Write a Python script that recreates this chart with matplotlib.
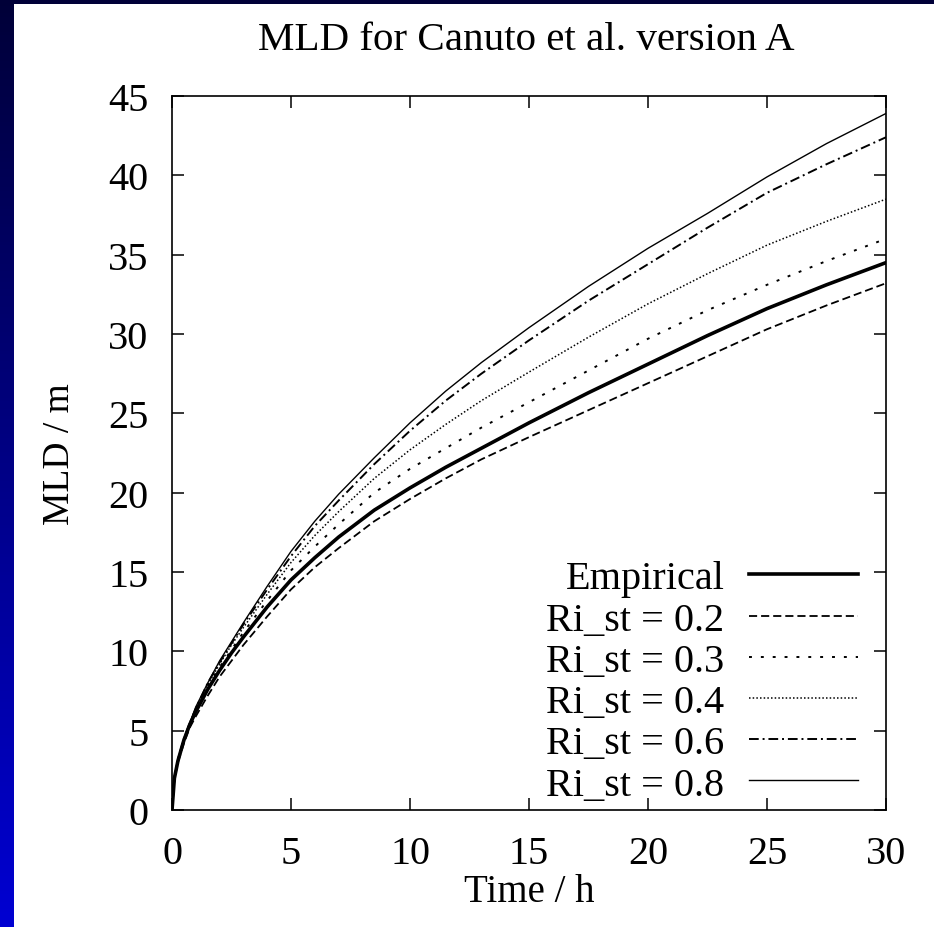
"""Mixed layer depth for Canuto et al. version A, recreated with matplotlib."""

import matplotlib.pyplot as plt
import numpy as np
from matplotlib.colors import LinearSegmentedColormap
from matplotlib.patches import Rectangle

plt.rcParams["font.family"] = ["Liberation Serif", "DejaVu Serif"]

# Values
time_h = [0, 0.1, 0.25, 0.5, 0.75, 1, 1.5, 2, 2.5, 3, 4, 5, 6, 7, 8.5, 10, 11.5, 13, 15, 17.5, 20, 22.5, 25, 27.5, 30]

mld_empirical = [0, 2.0, 3.1, 4.4, 5.4, 6.2, 7.6, 8.8, 9.9, 10.9, 12.8, 14.5, 15.9, 17.2, 18.9, 20.3,
                 21.6, 22.8, 24.4, 26.3, 28.1, 29.9, 31.6, 33.1, 34.5]
mld_ri02 = [0, 1.9, 3.0, 4.2, 5.2, 5.9, 7.2, 8.4, 9.4, 10.4, 12.2, 13.9, 15.3, 16.5, 18.2, 19.6,
            20.9, 22.1, 23.5, 25.2, 26.9, 28.6, 30.3, 31.8, 33.2]
mld_ri03 = [0, 2.0, 3.1, 4.4, 5.4, 6.3, 7.8, 9.0, 10.1, 11.2, 13.2, 15.1, 16.6, 18.0, 20.0, 21.5,
            22.8, 24.1, 25.7, 27.7, 29.7, 31.5, 33.1, 34.6, 36.0]
mld_ri04 = [0, 2.0, 3.2, 4.5, 5.5, 6.4, 7.9, 9.2, 10.4, 11.5, 13.6, 15.6, 17.3, 18.8, 20.9, 22.7,
            24.3, 25.8, 27.6, 29.8, 31.9, 33.8, 35.6, 37.1, 38.5]
mld_ri06 = [0, 2.0, 3.2, 4.5, 5.5, 6.4, 8.0, 9.3, 10.5, 11.7, 13.9, 16.0, 17.9, 19.5, 21.8, 23.9,
            25.8, 27.5, 29.6, 32.1, 34.4, 36.7, 38.9, 40.7, 42.4]
mld_ri08 = [0, 2.0, 3.2, 4.5, 5.5, 6.5, 8.0, 9.4, 10.6, 11.8, 14.1, 16.3, 18.2, 19.9, 22.2, 24.4,
            26.4, 28.2, 30.4, 33.0, 35.4, 37.6, 39.9, 42.0, 43.9]

labels = ["Empirical", "Ri_st = 0.2", "Ri_st = 0.3", "Ri_st = 0.4", "Ri_st = 0.6", "Ri_st = 0.8"]
x_ticks = [0, 5, 10, 15, 20, 25, 30]
y_ticks = [0, 5, 10, 15, 20, 25, 30, 35, 40, 45]

W, H = 934, 928
fig = plt.figure(figsize=(W / 100, H / 100), dpi=100)

# Slide background: blue gradient strip on the left, dark band on top
bg = fig.add_axes([0, 0, 1, 1], zorder=-10)
slide_cmap = LinearSegmentedColormap.from_list("slide", ["#000038", "#0000d2"])
bg.imshow(np.linspace(0, 1, 256).reshape(-1, 1), aspect="auto", cmap=slide_cmap,
          extent=[0, 1, 0, 1], origin="upper")
bg.add_patch(Rectangle((14 / W, 0), 1, 1 - 5 / H, facecolor="white", edgecolor="none"))
bg.set_xlim(0, 1)
bg.set_ylim(0, 1)
bg.axis("off")

ax = fig.add_axes([172 / W, 1 - 811 / H, (886 - 172) / W, (811 - 97) / H])
ax.set_facecolor("white")

# Line styles mimic the gnuplot terminal
ax.plot(time_h, mld_empirical, color="black", linewidth=2.6, label=labels[0])
ax.plot(time_h, mld_ri02, color="black", linewidth=1.3, dashes=(4.5, 2.2), label=labels[1])
ax.plot(time_h, mld_ri03, color="black", linewidth=1.4, dashes=(1.5, 4.6), label=labels[2])
ax.plot(time_h, mld_ri04, color="black", linewidth=1.1, dashes=(1.0, 1.4), label=labels[3])
ax.plot(time_h, mld_ri06, color="black", linewidth=1.4, dashes=(5, 2, 1, 2), label=labels[4])
ax.plot(time_h, mld_ri08, color="black", linewidth=1.0, label=labels[5])

ax.set_xlim(0, 30)
ax.set_ylim(0, 45)
ax.set_xticks(x_ticks)
ax.set_yticks(y_ticks)
for spine in ax.spines.values():
    spine.set_linewidth(1.2)
ax.tick_params(direction="in", length=8.6, width=1.1, top=True, right=True, labelsize=29)
ax.tick_params(axis="x", pad=18)
ax.tick_params(axis="y", pad=17)

ax.set_xlabel("Time / h", fontsize=28, labelpad=1)
ax.set_ylabel("MLD / m", fontsize=27, labelpad=22)
fig.text(0.563, 1 - 50 / H, "MLD for Canuto et al. version A", fontsize=29.5, ha="center", va="baseline")

ax.legend(loc="lower right", bbox_to_anchor=(0.961, 0.009), frameon=False, markerfirst=False,
          fontsize=29, handlelength=2.7, handletextpad=0.62, labelspacing=0.1,
          borderpad=0, borderaxespad=0)

plt.savefig("out.png", dpi=100)
